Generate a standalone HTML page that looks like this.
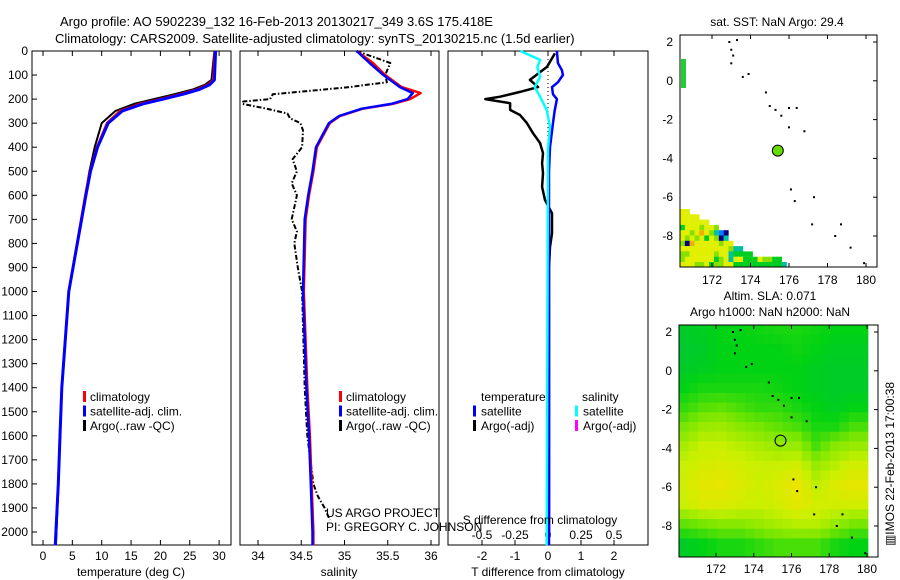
<!DOCTYPE html>
<html><head><meta charset="utf-8">
<style>
html,body{margin:0;padding:0;background:#fff;}
svg{display:block;font-family:"Liberation Sans",sans-serif;}
text{font-size:12px;fill:#000;}
</style></head>
<body>
<svg id="chart" width="900" height="580" viewBox="0 0 900 580" xmlns="http://www.w3.org/2000/svg">
<text x="60" y="26" style="font-size:13px">Argo profile: AO 5902239_132 16-Feb-2013 20130217_349 3.6S 175.418E</text>
<text x="55" y="43" style="font-size:13px">Climatology: CARS2009. Satellite-adjusted climatology: synTS_20130215.nc (1.5d earlier)</text>
<g id="g"></g>
</svg>
<script>
// ---------- data ----------
const depthTicks=[0,100,200,300,400,500,600,700,800,900,1000,1100,1200,1300,1400,1500,1600,1700,1800,1900,2000];
const tempTicks=[0,5,10,15,20,25,30];
const salTicks=[34,34.5,35,35.5,36];
const tdTicks=[-2,-1,0,1,2];
const sdTicks=[-0.5,-0.25,0,0.25,0.5];
const tempDepth=[0,120,140,160,180,200,220,250,300,400,500,600,1000,1400,1600,1800,2000,2055];
const tempClim=[29.3,29.0,28.1,26.2,23.3,20.0,16.5,13.1,10.9,9.2,8.0,7.2,4.4,3.2,2.9,2.6,2.2,2.1];
const tempSat=[29.4,29.2,28.4,26.6,23.8,20.5,17.0,13.5,11.1,9.3,8.1,7.3,4.4,3.2,2.9,2.6,2.2,2.1];
const tempArgo=[29.2,28.7,27.6,25.5,22.3,18.9,15.5,12.3,10.0,8.8,7.9,7.2,4.4,3.2,2.9,2.6,2.3,2.2];
const salDepth=[0,50,100,150,175,200,220,240,270,300,400,500,600,700,1000,1400,1600,1800,2000,2055];
const salClim=[35.14,35.33,35.47,35.66,35.88,35.76,35.56,35.21,34.95,34.83,34.68,34.64,34.59,34.55,34.53,34.57,34.60,34.62,34.64,34.64];
const salSat=[35.14,35.29,35.45,35.64,35.79,35.73,35.54,35.20,34.94,34.82,34.67,34.63,34.58,34.54,34.52,34.56,34.59,34.61,34.63,34.63];
const salArgoDepth=[0,50,100,130,140,150,180,200,210,220,240,260,280,300,330,400,450,500,550,600,650,700,750,800,900,1000,1400,1600,1800,1850,1900,1950];
const salArgo=[35.14,35.53,35.47,35.49,35.26,35.06,34.17,34.14,33.83,33.82,34.10,34.34,34.37,34.49,34.52,34.51,34.40,34.45,34.39,34.45,34.42,34.39,34.45,34.42,34.46,34.51,34.54,34.57,34.64,34.69,34.77,34.83];
const tdSatDepth=[0,50,80,100,130,150,180,200,250,300,400,500,600,2055];
const tdSat=[0.27,0.30,0.42,0.45,0.30,0.12,0.15,0.27,0.2,0.15,0.06,0.03,0.03,0.03];
const tdArgoDepth=[10,66,120,150,170,190,200,217,245,266,300,342,383,425,467,508,565,620,675,758,815,900,2000];
const tdArgo=[0.21,-0.03,-0.55,-0.3,-0.85,-1.45,-1.9,-1.15,-1.15,-0.85,-0.64,-0.45,-0.24,-0.15,-0.18,-0.15,-0.18,-0.09,0.12,0.12,0.06,0.03,0.03];
const sdSatDepth=[0,37,66,108,150,190,245,315,410,2055];
const sdSat=[-0.21,-0.06,-0.08,-0.06,-0.10,-0.06,-0.01,0.015,0,-0.01];
const lonTicks=[172,174,176,178,180];
const latTicks=[2,0,-2,-4,-6,-8];
const islands=[[172.9,2.0],[173.0,1.6],[173.1,1.3],[173.3,2.1],[173.0,0.9],[173.6,0.2],[173.9,0.35],[174.8,-0.6],[175.0,-1.3],[175.3,-1.5],[175.6,-1.8],[176.0,-1.4],[176.4,-1.4],[176.0,-2.4],[176.8,-2.6],[176.1,-5.6],[176.3,-6.2],[177.3,-6.0],[177.2,-7.4],[178.7,-7.4],[178.4,-8.0],[179.2,-8.6],[179.9,-9.4]];
const argoLon=175.418, argoLat=-3.6;
const sstRows=["yy","yyyy","yyyyyy","gyyylyyl","yylyoylcbn","ylylygylnc","lnoyyyyylyy","yyyyyyyyyylcc","llyyyyylyycgggg","lyyyyyyglycyygggyllgg","yyyllygllyyggggggggggc"];
const slaLats=[2,1,0,-1,-2,-3,-4,-5,-6,-7,-8,-9];
const slaLons=[170.5,171.5,172.5,173.5,174.5,175.5,176.5,177.5,178.5,179.5];
const slaVals=[
[0.2,0.22,0.25,0.25,0.28,0.3,0.3,0.28,0.25,0.25],
[0.18,0.2,0.25,0.25,0.25,0.25,0.28,0.25,0.22,0.22],
[0.2,0.22,0.25,0.25,0.25,0.25,0.25,0.22,0.2,0.2],
[0.25,0.3,0.3,0.3,0.3,0.28,0.25,0.22,0.2,0.2],
[0.35,0.42,0.45,0.4,0.35,0.35,0.3,0.25,0.22,0.25],
[0.5,0.6,0.62,0.55,0.5,0.45,0.4,0.3,0.3,0.4],
[0.65,0.75,0.75,0.7,0.65,0.6,0.6,0.4,0.55,0.6],
[0.75,0.82,0.85,0.8,0.75,0.75,0.8,0.6,0.7,0.8],
[0.8,0.9,0.92,0.85,0.78,0.85,0.95,0.72,0.85,0.92],
[0.75,0.85,0.85,0.8,0.75,0.8,0.9,0.8,0.8,0.8],
[0.45,0.5,0.55,0.55,0.6,0.65,0.7,0.7,0.6,0.5],
[0.2,0.25,0.3,0.3,0.35,0.4,0.4,0.4,0.3,0.25]];
// ---------- helpers ----------
const NS="http://www.w3.org/2000/svg", G=document.getElementById('g');
function el(tag,attrs,parent){const e=document.createElementNS(NS,tag);for(const k in attrs)e.setAttribute(k,attrs[k]);(parent||G).appendChild(e);return e;}
function txt(x,y,s,anchor,extra){const t=el('text',Object.assign({x:x,y:y,'text-anchor':anchor||'start'},extra||{}));t.textContent=s;return t;}
const yTop=51,yBot=545;
const dY=d=>51+d*0.2405;
const xT=v=>43+v*5.87, xS=v=>258+(v-34)*86.5, xTD=v=>548+v*33, xSD=v=>548+v*132;
function line(xs,ds,fx,color,w,dash,name){
  const pts=xs.map((v,i)=>fx(v).toFixed(1)+','+dY(ds[i]).toFixed(1)).join(' ');
  const p=el('polyline',{points:pts,fill:'none',stroke:color,'stroke-width':w,'stroke-dasharray':dash||'none','stroke-linejoin':'round'});
  
  
  return p;}
function panel(x0,x1,name){
  const r=el('rect',{x:x0,y:yTop,width:x1-x0,height:yBot-yTop,fill:'none',stroke:'#000','stroke-width':1});
  
  }
function xticks(vals,fx,labelY,fmt){
  vals.forEach(v=>{const x=fx(v);
    el('line',{x1:x,x2:x,y1:yTop,y2:yTop+5,stroke:'#000'});
    el('line',{x1:x,x2:x,y1:yBot,y2:yBot-5,stroke:'#000'});
    if(labelY){const t=txt(x,labelY,fmt?fmt(v):String(v),'middle');
      
      }});}
// ---------- panel 1: temperature ----------
panel(32,231,'temperature-panel');
depthTicks.forEach(d=>{const y=dY(d);el('line',{x1:32,x2:37,y1:y,y2:y,stroke:'#000'});
  const t=txt(28,y+4,String(d),'end');
  
  });
xticks(tempTicks,xT,560);
line(tempArgo,tempDepth,xT,'#000',2,null,'temp-argo-line');
line(tempClim,tempDepth,xT,'#f00',2.5,null,'temp-climatology-line');
line(tempSat,tempDepth,xT,'#00f',3,null,'temp-satellite-line');
const xt1=txt(131,576,'temperature (deg C)','middle');


function legend(x,items,name){items.forEach((it,i)=>{const y=401+i*14.5;
  el('rect',{x:x,y:y-10,width:3,height:11,fill:it[0]});
  const t=txt(x+7,y,it[1]);
  
  });}
legend(83,[['#f00','climatology'],['#00f','satellite-adj. clim.'],['#000','Argo(..raw -QC)']],'temp-legend');
// ---------- panel 2: salinity ----------
panel(240,439,'salinity-panel');
xticks(salTicks,xS,560);
line(salArgo,salArgoDepth,xS,'#000',2,'5,2,1.5,2','salinity-argo-line');
line(salClim,salDepth,xS,'#f00',2.5,null,'salinity-climatology-line');
line(salSat,salDepth,xS,'#00f',2.5,null,'salinity-satellite-line');
const xt2=txt(339,576,'salinity','middle');


legend(339,[['#f00','climatology'],['#00f','satellite-adj. clim.'],['#000','Argo(..raw -QC)']],'salinity-legend');
// ---------- panel 3: differences ----------
panel(448,648,'difference-panel');
xticks(tdTicks,xTD,560);
sdTicks.forEach(v=>{const t=txt(xSD(v),539,String(v),'middle');
  
  });
el('line',{x1:548,x2:548,y1:51,y2:150,stroke:'#000','stroke-dasharray':'1,3'});
line(tdArgo,tdArgoDepth,xTD,'#000',2.5,null,'t-diff-argo-line');
line(tdSat,tdSatDepth,xTD,'#00f',2.5,null,'t-diff-satellite-line');
line(sdSat,sdSatDepth,xSD,'#0ff',2.5,null,'s-diff-satellite-line');
const t3a=txt(540,524,'S difference from climatology','middle');


const t3b=txt(548,576,'T difference from climatology','middle');


const lt=txt(481,401,'temperature');
const ls=txt(582,401,'salinity');
[[473,'#00f','satellite',415.5],[473,'#000','Argo(-adj)',430],[575,'#0ff','satellite',415.5],[575,'#f0f','Argo(-adj)',430]].forEach(a=>{
  el('rect',{x:a[0],y:a[3]-10,width:3,height:11,fill:a[1]});
  const t=txt(a[0]+8,a[3],a[2]);
  
  });
const c1=txt(326,517,'US ARGO PROJECT');
const c2=txt(326,531,'PI: GREGORY C. JOHNSON');
// ---------- maps ----------
function lerpC(a,b,t){return 'rgb('+a.map((v,i)=>Math.round(v+(b[i]-v)*t)).join(',')+')';}
function slaColor(v){const st=[[0,[0,180,120]],[0.25,[0,210,20]],[0.5,[120,230,0]],[0.75,[200,240,0]],[1,[245,225,0]]];
  for(let i=1;i<st.length;i++)if(v<=st[i][0]){const t=(v-st[i-1][0])/(st[i][0]-st[i-1][0]);return lerpC(st[i-1][1],st[i][1],t);}return 'rgb(245,225,0)';}
function mapFrame(x0,y0,x1,y1,fx,fy,labelY,name){
  const r=el('rect',{x:x0,y:y0,width:x1-x0,height:y1-y0,fill:'none',stroke:'#000'});
  
  
  lonTicks.forEach(l=>{const x=fx(l);el('line',{x1:x,x2:x,y1:y0,y2:y0+4,stroke:'#000'});el('line',{x1:x,x2:x,y1:y1,y2:y1-4,stroke:'#000'});
    const t=txt(x,labelY,String(l),'middle');});
  latTicks.forEach(l=>{const y=fy(l);el('line',{x1:x1,x2:x1-4,y1:y,y2:y,stroke:'#000'});
    const t=txt(x0-7,y+4,String(l),'end');});}
function drawIslands(fx,fy){islands.forEach(p=>{const r=el('rect',{x:fx(p[0])-1,y:fy(p[1])-1,width:2,height:2,fill:'#000'});
  
  });}
// SST map
const sx=l=>712+(l-172)*19.25, sy=l=>42+(2-l)*19.4;
const cmap={y:'#e0f000',Y:'#f0e000',g:'#00cc22',l:'#88e000',c:'#00c0a0',b:'#0080ff',n:'#000080',o:'#f0b000'};
sstRows.forEach((row,r)=>{[...row].forEach((ch,c)=>{const cell=el('rect',{x:680+c*4.85,y:209+r*5.3,width:5,height:5.5,fill:cmap[ch]});
  
  });});
el('rect',{x:681,y:59,width:5,height:29,fill:'#22cc33'});
drawIslands(sx,sy);
const am=el('circle',{cx:sx(argoLon),cy:sy(argoLat),r:5.5,fill:'#66dd00',stroke:'#000'});


mapFrame(680,35,877,267,sx,sy,284,'sst-map');
const mt1=txt(777,26,'sat. SST: NaN Argo: 29.4','middle');
// SLA map
const ax=l=>716+(l-172)*18.875, ay=l=>332+(2-l)*19.4;
const cw=18.875/2, ch=19.4/2;
for(let i=0;i<slaLats.length*2;i++)for(let j=0;j<slaLons.length*2;j++){
  const r=Math.min(slaLats.length-1,Math.floor(i/2)), c=Math.min(slaLons.length-1,Math.floor(j/2));
  const r2=Math.min(slaLats.length-1,r+(i%2)), c2=Math.min(slaLons.length-1,c+(j%2));
  const v=(slaVals[r][c]+slaVals[r2][c]+slaVals[r][c2]+slaVals[r2][c2])/4;
  const x=679+j*cw, y=325+i*ch;
  if(x>=869||y>=557)continue;
  const cell=el('rect',{x:x,y:y,width:Math.min(cw+0.6,869-x),height:Math.min(ch+0.6,557-y),fill:slaColor(v)});
  
  }
drawIslands(ax,ay);
const am2=el('circle',{cx:ax(argoLon),cy:ay(argoLat),r:5.5,fill:'none',stroke:'#000'});


mapFrame(679,325,878,557,ax,ay,573,'sla-map');
const mt2=txt(770,300,'Altim. SLA: 0.071','middle');
const mt3=txt(770,316,'Argo h1000: NaN h2000: NaN','middle');
const ts=txt(0,0,'\u25A5IMOS 22-Feb-2013 17:00:38','middle',{transform:'translate(894,464) rotate(-90)'});


</script>
</body></html>
